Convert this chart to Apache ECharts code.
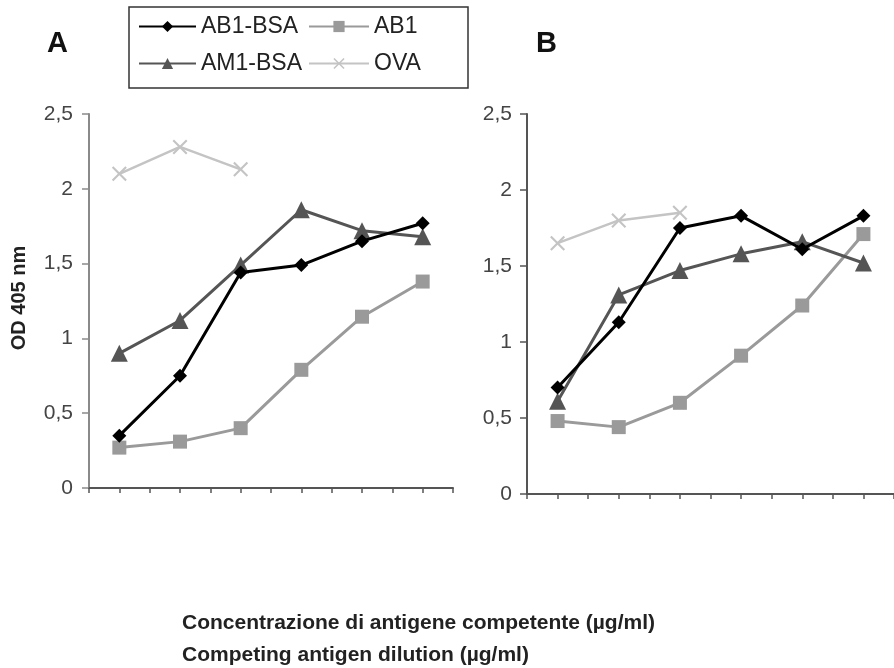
<!DOCTYPE html>
<html><head><meta charset="utf-8">
<script src="https://cdn.jsdelivr.net/npm/echarts@6/dist/echarts.min.js"></script>
<style>html,body{margin:0;padding:0;background:#fff}#c{width:894px;height:668px}</style>
</head><body><div id="c"></div>
<script>
// six dilution steps (unlabelled on the original)
const dilutions = ['d1','d2','d3','d4','d5','d6'];
const yTicks = ['0','0,5','1','1,5','2','2,5'];

// Panel A
const A_AB1BSA = [0.35, 0.75, 1.44, 1.49, 1.65, 1.77];
const A_AM1BSA = [0.90, 1.12, 1.49, 1.86, 1.72, 1.68];
const A_AB1    = [0.27, 0.31, 0.40, 0.79, 1.145, 1.38];
const A_OVA    = [2.10, 2.28, 2.13];

// Panel B
const B_AB1BSA = [0.70, 1.13, 1.75, 1.83, 1.61, 1.83];
const B_AM1BSA = [0.61, 1.31, 1.47, 1.58, 1.66, 1.52];
const B_AB1    = [0.48, 0.44, 0.60, 0.91, 1.24, 1.71];
const B_OVA    = [1.65, 1.80, 1.85];

const crossPath = 'path://M0,1L1,0L5,4L9,0L10,1L6,5L10,9L9,10L5,6L1,10L0,9L4,5Z';

function pts(vals){ return vals.map((v,i)=>[2*i+1, v]); }

const styles = {
  'AB1-BSA': {color:'#000000', symbol:'diamond', size:14, width:3},
  'AB1':     {color:'#9a9a9a', symbol:'rect', size:14, width:3},
  'AM1-BSA': {color:'#555555', symbol:'triangle', size:17, width:3},
  'OVA':     {color:'#c4c4c4', symbol:crossPath, size:15, width:2.5}
};

function ser(name, vals, idx){
  const s = styles[name];
  return {name, type:'line', xAxisIndex:idx, yAxisIndex:idx, data:pts(vals),
    symbol:s.symbol, symbolSize:s.size, showSymbol:true,
    lineStyle:{color:s.color, width:s.width}, itemStyle:{color:s.color},
    animation:false, z: name==='AB1-BSA'?5:3};
}

function xAx(idx){
  return {type:'value', gridIndex:idx, min:0, max:12, interval:1,
    axisLine:{lineStyle:{color:'#555', width:2}},
    axisTick:{show:true, length:5, lineStyle:{color:'#555', width:1.5}},
    axisLabel:{show:false}, splitLine:{show:false}};
}
function yAx(idx, color, margin){
  return {type:'value', gridIndex:idx, min:0, max:2.5, interval:0.5,
    axisLine:{show:true, lineStyle:{color:color, width:2}},
    axisTick:{show:true, length:7, lineStyle:{color:color, width:1.5}},
    axisLabel:{fontFamily:'Liberation Sans', fontSize:21, color:'#444', margin:margin,
      formatter:(v)=>yTicks[Math.round(v/0.5)]},
    splitLine:{show:false}};
}

const legendBase = {itemWidth:57, itemHeight:14,
  textStyle:{fontFamily:'Liberation Sans', fontSize:23, color:'#222'}, itemGap:10, selectedMode:false};

const chart = echarts.init(document.getElementById('c'), null, {renderer:'canvas'});
chart.setOption({
  backgroundColor:'#fff',
  animation:false,
  grid:[
    {left:89, right:441, top:114, bottom:180},
    {left:527, right:-7, top:114, bottom:174}
  ],
  xAxis:[xAx(0), xAx(1)],
  yAxis:[yAx(0,'#8a8a8a',16), yAx(1,'#555',15)],
  legend:[
    Object.assign({}, legendBase, {data:['AB1-BSA'], left:133, top:10}),
    Object.assign({}, legendBase, {data:['AB1'], left:303, top:10, itemWidth:60}),
    Object.assign({}, legendBase, {data:['AM1-BSA'], left:133, top:47}),
    Object.assign({}, legendBase, {data:['OVA'], left:303, top:47, itemWidth:60})
  ],
  graphic:[
    {type:'rect', shape:{x:129, y:7, width:339, height:81}, style:{fill:'none', stroke:'#333', lineWidth:1.5}, z:-1},
    {type:'text', left:47, top:29, style:{text:'A', font:'bold 29px Liberation Sans', fill:'#111'}},
    {type:'text', left:536, top:29, style:{text:'B', font:'bold 29px Liberation Sans', fill:'#111'}},
    {type:'text', x:19, y:298, rotation:Math.PI/2, style:{text:'OD 405 nm', font:'bold 20px Liberation Sans', fill:'#222', align:'center', verticalAlign:'middle'}},
    {type:'text', x:182, y:623, style:{text:'Concentrazione di antigene competente (\u00b5g/ml)', font:'bold 21px Liberation Sans', fill:'#222', verticalAlign:'middle'}},
    {type:'text', x:182, y:655, style:{text:'Competing antigen dilution (\u00b5g/ml)', font:'bold 21px Liberation Sans', fill:'#222', verticalAlign:'middle'}}
  ],
  series:[
    ser('OVA', A_OVA, 0), ser('AB1', A_AB1, 0), ser('AM1-BSA', A_AM1BSA, 0), ser('AB1-BSA', A_AB1BSA, 0),
    ser('OVA', B_OVA, 1), ser('AB1', B_AB1, 1), ser('AM1-BSA', B_AM1BSA, 1), ser('AB1-BSA', B_AB1BSA, 1)
  ]
});
</script></body></html>
